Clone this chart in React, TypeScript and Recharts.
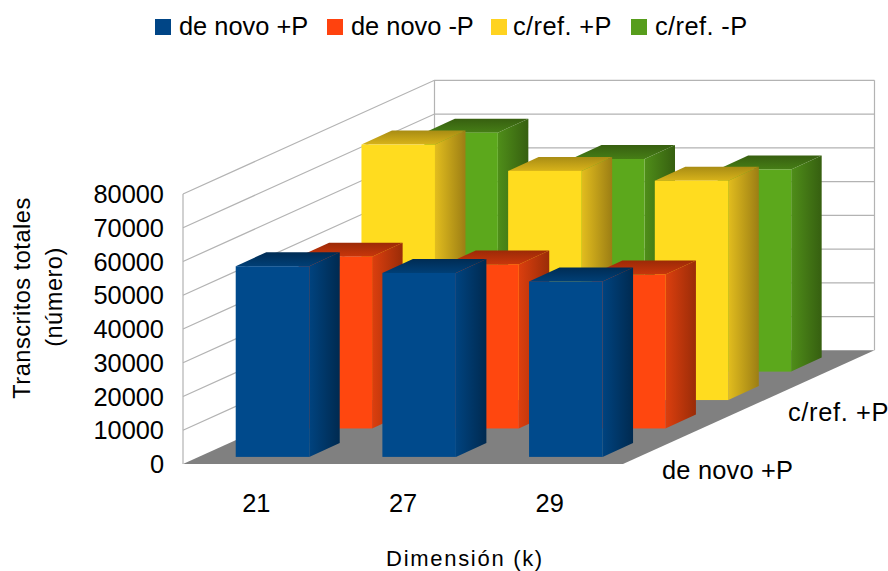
import React from 'react';
import { BarChart, Bar, XAxis, YAxis, CartesianGrid, Legend } from 'recharts';

const categories = ['21', '27', '29'];
const deNovoMas = [56500, 54500, 52000];
const deNovoMenos = [50900, 48600, 45600];
const cRefMas = [75700, 67900, 65000];
const cRefMenos = [70800, 63000, 59900];
const yTicks = [0, 10000, 20000, 30000, 40000, 50000, 60000, 70000, 80000];
const legendOrder = ['de novo +P', 'de novo -P', 'c/ref. +P', 'c/ref. -P'];

const chartData = categories.map((k, i) => ({
  k,
  deNovoMas: deNovoMas[i],
  deNovoMenos: deNovoMenos[i],
  cRefMas: cRefMas[i],
  cRefMenos: cRefMenos[i],
}));

// 3D projection of the depth axis
const WALL_DX = 251.5;
const WALL_DY = -113.7;
const PLOT_TOP = 194;
const PLOT_H = 270;
const LEGEND_H = 56;
const ROW_DX = WALL_DX / 4;
const ROW_DY = WALL_DY / 4;
const SIDE_DX = 30.5;
const SIDE_DY = -14;
const FONT = '"Liberation Sans", Arial, sans-serif';
const GRID = '#b3b3b3';

const palette = {
  blue: { front: '#004a8c', sideA: '#00437f', sideB: '#002a50', topA: '#003f76', topB: '#002c54' },
  orange: { front: '#ff470f', sideA: '#dc3f0e', sideB: '#9a2c08', topA: '#c8360b', topB: '#9c2a07' },
  yellow: { front: '#ffdc1f', sideA: '#e2bd1e', sideB: '#9c7e14', topA: '#d8b31a', topB: '#a88c14' },
  green: { front: '#5ca81c', sideA: '#4f8e19', sideB: '#365f10', topA: '#467e16', topB: '#375f10' },
};

const makeBarShape = (row: number, name: keyof typeof palette) => (props: any) => {
  const { x, y, width, height } = props;
  const c = palette[name];
  const ox = x + ROW_DX * row + ROW_DX / 4;
  const oy = ROW_DY * row + ROW_DY / 4;
  const top = y + oy;
  const bottom = y + height + oy;
  const right = ox + width;
  return (
    <g>
      <polygon
        points={`${right},${top} ${right + SIDE_DX},${top + SIDE_DY} ${right + SIDE_DX},${bottom + SIDE_DY} ${right},${bottom}`}
        fill={`url(#side-${name})`}
      />
      <polygon
        points={`${ox},${top} ${ox + SIDE_DX},${top + SIDE_DY} ${right + SIDE_DX},${top + SIDE_DY} ${right},${top}`}
        fill={`url(#top-${name})`}
      />
      <rect x={ox} y={top} width={width} height={height} fill={c.front} />
    </g>
  );
};

// each horizontal grid line runs along the left wall and then the back wall
const WallLine = (props: any) => {
  const { x1, x2, y1 } = props;
  const isFloor = Math.abs(y1 - (PLOT_TOP + PLOT_H)) < 1;
  const isTop = Math.abs(y1 - PLOT_TOP) < 1;
  return (
    <g>
      {isFloor && (
        <polygon
          points={`${x1},${y1} ${x2},${y1} ${x2 + WALL_DX},${y1 + WALL_DY} ${x1 + WALL_DX},${y1 + WALL_DY}`}
          fill="#808080"
        />
      )}
      {!isFloor && (
        <polyline
          points={`${x1},${y1} ${x1 + WALL_DX},${y1 + WALL_DY} ${x2 + WALL_DX},${y1 + WALL_DY}`}
          fill="none"
          stroke={GRID}
          strokeWidth={1.2}
        />
      )}
      {isTop && (
        <g stroke={GRID} strokeWidth={1.2}>
          <line x1={x1} y1={y1} x2={x1} y2={y1 + PLOT_H} />
          <line x1={x1 + WALL_DX} y1={y1 + WALL_DY} x2={x1 + WALL_DX} y2={y1 + WALL_DY + PLOT_H} />
          <line x1={x2 + WALL_DX} y1={y1 + WALL_DY} x2={x2 + WALL_DX} y2={y1 + WALL_DY + PLOT_H} />
        </g>
      )}
    </g>
  );
};

const LegendRow = ({ payload }: any) => (
  <div style={{ position: 'relative', height: LEGEND_H, fontFamily: FONT, fontSize: 25.4, color: '#000' }}>
    {legendOrder.map((name, i) => (
      <div
        key={name}
        style={{
          position: 'absolute',
          left: [155, 327, 491, 631][i],
          top: 12,
          display: 'flex',
          alignItems: 'center',
          whiteSpace: 'nowrap',
          letterSpacing: i > 1 ? 0.4 : 0,
        }}
      >
        <span
          style={{
            width: 16,
            height: 16,
            background: (payload || []).find((p: any) => p.value === name)?.color,
            marginRight: i === 2 ? 6 : 8,
            display: 'inline-block',
          }}
        />
        {name}
      </div>
    ))}
  </div>
);

const gradients = (Object.keys(palette) as (keyof typeof palette)[]).map((name) => (
  <React.Fragment key={name}>
    <linearGradient id={`side-${name}`} x1="0" y1="0" x2="1" y2="0">
      <stop offset="0%" stopColor={palette[name].sideA} />
      <stop offset="100%" stopColor={palette[name].sideB} />
    </linearGradient>
    <linearGradient id={`top-${name}`} x1="0" y1="1" x2="0" y2="0">
      <stop offset="0%" stopColor={palette[name].topA} />
      <stop offset="100%" stopColor={palette[name].topB} />
    </linearGradient>
  </React.Fragment>
));

export default function App() {
  return (
    <div style={{ position: 'absolute', left: 0, top: 0, width: 888, height: 571, background: '#fff' }}>
      <BarChart
        width={888}
        height={571}
        data={chartData}
        margin={{ top: PLOT_TOP - LEGEND_H, right: 265, bottom: 0, left: 0 }}
        barSize={73.5}
        barGap={-73.5}
      >
        <defs>{gradients}</defs>
        <CartesianGrid vertical={false} horizontal={(p: any) => <WallLine key={p.key} {...p} />} />
        <XAxis
          dataKey="k"
          height={107}
          axisLine={false}
          tickLine={false}
          tickMargin={24}
          tick={{ fontSize: 25.4, fontFamily: FONT, fill: '#000' }}
          interval={0}
        />
        <YAxis
          width={183}
          domain={[0, 80000]}
          ticks={yTicks}
          axisLine={false}
          tickLine={false}
          tickMargin={13}
          tick={{ fontSize: 25.4, fontFamily: FONT, fill: '#000' }}
          interval={0}
        />
        <Legend
          verticalAlign="top"
          content={<LegendRow />}
          wrapperStyle={{ left: 0, top: 0, width: 888 }}
        />
        <Bar dataKey="cRefMenos" name="c/ref. -P" fill="#579d1c" isAnimationActive={false} shape={makeBarShape(3, 'green')} />
        <Bar dataKey="cRefMas" name="c/ref. +P" fill="#ffd320" isAnimationActive={false} shape={makeBarShape(2, 'yellow')} />
        <Bar dataKey="deNovoMenos" name="de novo -P" fill="#ff420e" isAnimationActive={false} shape={makeBarShape(1, 'orange')} />
        <Bar dataKey="deNovoMas" name="de novo +P" fill="#004586" isAnimationActive={false} shape={makeBarShape(0, 'blue')} />
        <g fontFamily={FONT} fill="#000">
          <text x={662} y={479} fontSize={25.4} letterSpacing={0.2}>de novo +P</text>
          <text x={788} y={421} fontSize={25.4} letterSpacing={0.65}>c/ref. +P</text>
          <text x={465} y={566} fontSize={22} textAnchor="middle" letterSpacing={1.7}>Dimensión (k)</text>
          <text transform="translate(30,298) rotate(-90)" fontSize={23.6} letterSpacing={0.5} textAnchor="middle">Transcritos totales</text>
          <text transform="translate(62,297) rotate(-90)" fontSize={23.6} letterSpacing={0.5} textAnchor="middle">(número)</text>
        </g>
      </BarChart>
    </div>
  );
}
